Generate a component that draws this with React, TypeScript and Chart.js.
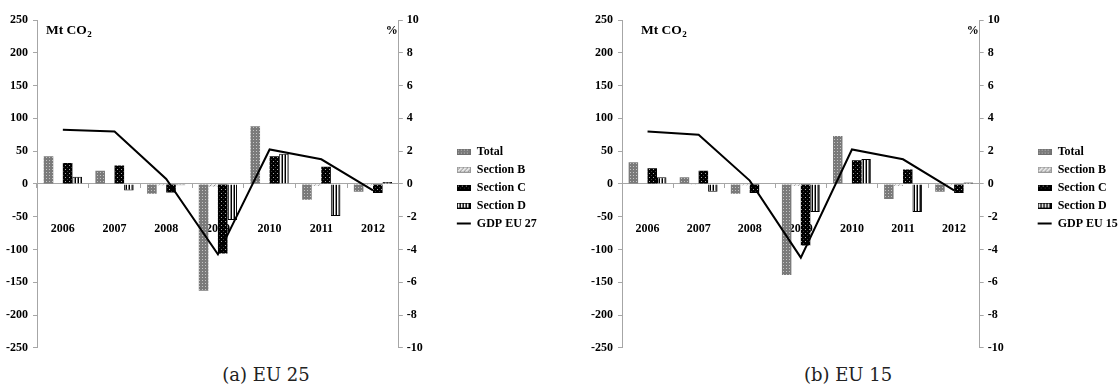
import React, { useEffect, useRef } from 'react';
import { Chart, registerables } from 'chart.js';

Chart.register(...registerables);

// ---------- data ----------
const years = ['2006', '2007', '2008', '2009', '2010', '2011', '2012'];
const seriesNames = ['Total', 'Section B', 'Section C', 'Section D'];

const eu25Total = [42, 20, -15, -163, 88, -24, -12];
const eu25SectionB = [-1, -1, -2, -4, -1, -3, -2];
const eu25SectionC = [32, 28, -13, -106, 42, 26, -14];
const eu25SectionD = [11, -10, -2, -55, 46, -49, 3];
const gdpEU27 = [3.3, 3.2, 0.3, -4.3, 2.1, 1.5, -0.4];

const eu15Total = [33, 10, -15, -139, 73, -23, -12];
const eu15SectionB = [-1, -0.5, -2, -3, -1, -3, -2];
const eu15SectionC = [24, 20, -14, -94, 36, 22, -14];
const eu15SectionD = [10, -12, -1, -43, 38, -43, 2];
const gdpEU15 = [3.2, 3.0, 0.2, -4.5, 2.1, 1.5, -0.4];

const leftAxisRange = [-250, 250, 50];
const rightAxisRange = [-10, 10, 2];

// ---------- style ----------
const FAMILY = '"Liberation Serif", "Times New Roman", serif';
const FS = 12;
const LEG_PAD = 6;
const BOX_W = 14;
const BOX_H = 6;
const RIGHT_AXIS_W = 52;
const AXIS_GREY = '#a6a6a6';

function makePatternCanvas(kind: string): HTMLCanvasElement {
  const c = document.createElement('canvas');
  const g = c.getContext('2d')!;
  if (kind === 'total') {
    c.width = 3; c.height = 3;
    g.fillStyle = '#7a7a7a'; g.fillRect(0, 0, 3, 3);
    g.fillStyle = '#c4c4c4'; g.fillRect(1, 1, 1, 1);
  } else if (kind === 'b') {
    c.width = 4; c.height = 4;
    g.fillStyle = '#e8e8e8'; g.fillRect(0, 0, 4, 4);
    g.fillStyle = '#8a8a8a';
    for (let i = 0; i < 4; i++) g.fillRect(i, 3 - i, 1, 1);
  } else if (kind === 'c') {
    c.width = 4; c.height = 4;
    g.fillStyle = '#000'; g.fillRect(0, 0, 4, 4);
    g.fillStyle = '#a8a8a8'; g.fillRect(1, 1, 1, 1);
    g.fillStyle = '#3a3a3a'; g.fillRect(3, 3, 1, 1);
  } else {
    c.width = 3; c.height = 1;
    g.fillStyle = '#fff'; g.fillRect(0, 0, 3, 1);
    g.fillStyle = '#000'; g.fillRect(0, 0, 1, 1);
    g.fillStyle = '#888'; g.fillRect(2, 0, 1, 1);
  }
  return c;
}

type PanelProps = {
  left: number;
  axisW: number;
  plotRight: number;
  total: number[];
  secB: number[];
  secC: number[];
  secD: number[];
  gdp: number[];
  gdpLabel: string;
  unitDx: number;
};

const CANVAS_H = 360;

function Panel(p: PanelProps) {
  const ref = useRef<HTMLCanvasElement>(null);

  useEffect(() => {
    const canvas = ref.current!;
    const m = document.createElement('canvas').getContext('2d')!;
    m.font = `bold ${FS}px ${FAMILY}`;
    const texts = [...seriesNames, p.gdpLabel];
    const maxText = Math.max(...texts.map((t) => m.measureText(t).width));
    const legendW = LEG_PAD + BOX_W + FS / 2 + maxText;
    const padRight = 4;
    const W = Math.ceil(p.plotRight + RIGHT_AXIS_W + legendW + padRight);
    canvas.width = W;
    canvas.height = CANVAS_H;
    canvas.style.width = W + 'px';
    canvas.style.height = CANVAS_H + 'px';
    const realPadRight = W - p.plotRight - RIGHT_AXIS_W - legendW;

    const ctx = canvas.getContext('2d')!;
    const kinds = ['total', 'b', 'c', 'd'];
    const borders = ['#6e6e6e', '#9a9a9a', '#000000', '#000000'];
    const patterns = kinds.map((k) => ctx.createPattern(makePatternCanvas(k), 'repeat')!);
    const legendImgs = kinds.map((k, i) => {
      const c = document.createElement('canvas');
      c.width = BOX_W; c.height = BOX_H;
      const g = c.getContext('2d')!;
      g.fillStyle = g.createPattern(makePatternCanvas(k), 'repeat')!;
      g.fillRect(0, 0, BOX_W, BOX_H);
      g.strokeStyle = borders[i];
      g.lineWidth = 1;
      g.strokeRect(0.5, 0.5, BOX_W - 1, BOX_H - 1);
      return c;
    });

    const values = [p.total, p.secB, p.secC, p.secD];
    const font = { family: FAMILY, weight: 'bold' as const, size: FS };

    const unitsPlugin = {
      id: 'units',
      afterDraw(chart: any) {
        const { ctx: c, chartArea } = chart;
        c.save();
        c.fillStyle = '#000';
        c.textBaseline = 'alphabetic';
        c.textAlign = 'left';
        const x = chartArea.left + p.unitDx;
        const y = chartArea.top + 13.5;
        c.font = `bold 13.5px ${FAMILY}`;
        c.fillText('Mt CO', x, y);
        const w = c.measureText('Mt CO').width;
        c.font = `bold 9px ${FAMILY}`;
        c.fillText('2', x + w + 0.5, y + 3);
        c.font = `bold 12px ${FAMILY}`;
        c.textAlign = 'right';
        c.fillText('%', chartArea.right - 1, y);
        c.restore();
      },
    };

    const chart = new Chart(canvas, {
      type: 'bar',
      data: {
        labels: years,
        datasets: [
          ...values.map((v, i) => ({
            type: 'bar' as const,
            label: seriesNames[i],
            data: v,
            backgroundColor: patterns[i],
            borderColor: borders[i],
            borderWidth: i === 3 ? 1 : 0,
            yAxisID: 'y',
            categoryPercentage: 0.74,
            barPercentage: 1.0,
          })),
          {
            type: 'line' as const,
            label: p.gdpLabel,
            data: p.gdp,
            borderColor: '#000',
            backgroundColor: '#000',
            borderWidth: 2,
            pointRadius: 0,
            tension: 0,
            yAxisID: 'y1',
            order: -1,
          },
        ],
      } as any,
      options: {
        responsive: false,
        animation: false,
        devicePixelRatio: 1,
        layout: { padding: { left: 0, top: 20, bottom: 12, right: realPadRight } },
        plugins: {
          tooltip: { enabled: false },
          legend: {
            position: 'right',
            align: 'center',
            title: { display: true, text: ' ', font: { size: 6 }, padding: 0 },
            labels: {
              usePointStyle: true,
              pointStyleWidth: BOX_W,
              boxWidth: BOX_W,
              boxHeight: BOX_H,
              padding: LEG_PAD,
              color: '#000',
              font,
              sort: (a: any, b: any) => a.datasetIndex - b.datasetIndex,
              generateLabels: (ch: any) => {
                const items = (Chart.defaults.plugins.legend.labels as any).generateLabels(ch);
                return items.map((it: any) =>
                  it.datasetIndex < 4
                    ? { ...it, pointStyle: legendImgs[it.datasetIndex], lineWidth: 0 }
                    : { ...it, pointStyle: 'line', strokeStyle: '#000', lineWidth: 2 }
                );
              },
            },
          },
        },
        scales: {
          x: {
            position: { y: 0 } as any,
            grid: {
              display: true,
              drawOnChartArea: false,
              drawTicks: true,
              tickLength: 4,
              color: AXIS_GREY,
              offset: true,
            },
            border: { display: true, color: AXIS_GREY, width: 1 },
            ticks: { padding: 34, font, color: '#000', maxRotation: 0, autoSkip: false },
          },
          y: {
            position: 'left',
            min: leftAxisRange[0],
            max: leftAxisRange[1],
            ticks: { stepSize: leftAxisRange[2], font, color: '#000', padding: 5 },
            grid: { drawOnChartArea: false, drawTicks: true, tickLength: 4, color: AXIS_GREY },
            border: { color: AXIS_GREY, width: 1 },
            afterFit: (s: any) => {
              s.width = p.axisW;
            },
          },
          y1: {
            position: 'right',
            min: rightAxisRange[0],
            max: rightAxisRange[1],
            ticks: { stepSize: rightAxisRange[2], font, color: '#000', padding: 4 },
            grid: { drawOnChartArea: false, drawTicks: true, tickLength: 4, color: AXIS_GREY },
            border: { color: AXIS_GREY, width: 1 },
            afterFit: (s: any) => {
              s.width = RIGHT_AXIS_W;
            },
          },
        },
      } as any,
      plugins: [unitsPlugin],
    });
    return () => chart.destroy();
  }, []);

  return (
    <canvas
      ref={ref}
      width={560}
      height={CANVAS_H}
      style={{ position: 'absolute', left: p.left, top: 0, width: 560, height: CANVAS_H }}
    />
  );
}

const captionStyle = (center: number): React.CSSProperties => ({
  position: 'absolute',
  left: center - 100,
  top: 364,
  width: 200,
  textAlign: 'center',
  fontFamily: '"DejaVu Serif", serif',
  fontSize: 18,
  lineHeight: '22px',
  color: '#222',
});

export default function App() {
  return (
    <div
      style={{
        position: 'absolute',
        left: 0,
        top: 0,
        width: 1120,
        height: 391,
        overflow: 'hidden',
        background: '#fff',
      }}
    >
      <Panel
        left={0}
        axisW={37}
        plotRight={403}
        total={eu25Total}
        secB={eu25SectionB}
        secC={eu25SectionC}
        secD={eu25SectionD}
        gdp={gdpEU27}
        gdpLabel="GDP EU 27"
        unitDx={9}
      />
      <Panel
        left={560}
        axisW={62}
        plotRight={428}
        total={eu15Total}
        secB={eu15SectionB}
        secC={eu15SectionC}
        secD={eu15SectionD}
        gdp={gdpEU15}
        gdpLabel="GDP EU 15"
        unitDx={19}
      />
      <div style={captionStyle(266)}>(a) EU 25</div>
      <div style={captionStyle(848)}>(b) EU 15</div>
    </div>
  );
}
